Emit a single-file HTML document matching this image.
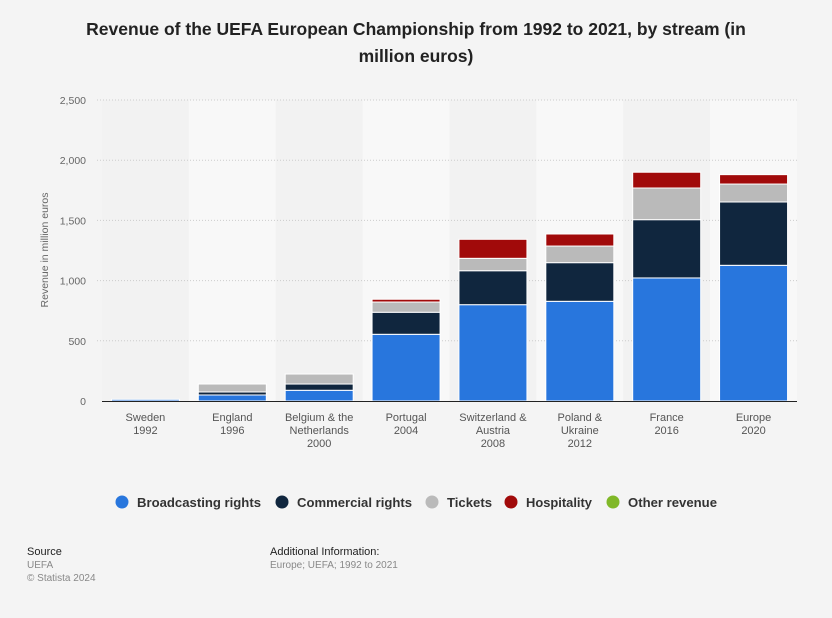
<!DOCTYPE html>
<html><head><meta charset="utf-8"><style>
body{margin:0;background:#f4f4f4;font-family:"Liberation Sans",Arial,sans-serif;}
#wrap{position:relative;width:832px;height:618px;overflow:hidden;background:#f4f4f4;}
.t{position:absolute;white-space:nowrap;}
</style></head><body>
<div id="wrap">
<div class="t" style="left:0;width:832px;top:16px;text-align:center;font-size:17.5px;font-weight:bold;color:#222;line-height:27px;white-space:normal">Revenue of the UEFA European Championship from 1992 to 2021, by stream (in<br>million euros)</div>
<svg id="chart" width="832" height="618" style="position:absolute;left:0;top:0"></svg>
<div class="t" style="left:27px;top:546px;font-size:11px;color:#222">Source</div>
<div class="t" style="left:27px;top:560px;font-size:10px;color:#888">UEFA</div>
<div class="t" style="left:27px;top:573px;font-size:10px;color:#888">© Statista 2024</div>
<div class="t" style="left:270px;top:546px;font-size:11px;color:#222">Additional Information:</div>
<div class="t" style="left:270px;top:560px;font-size:10px;color:#888">Europe; UEFA; 1992 to 2021</div>
</div>
<script>
const categories=[["Sweden","1992"],["England","1996"],["Belgium & the","Netherlands","2000"],["Portugal","2004"],["Switzerland &","Austria","2008"],["Poland &","Ukraine","2012"],["France","2016"],["Europe","2020"]];
const broadcasting=[14,50,89,554,800,828,1022,1127];
const commercial=[0,25,52,183,282,321,484,526];
const tickets=[0,66,83,85,103,138,263,149];
const hospitality=[0,0,0,23,158,100,131,78];
const other=[0,0,0,0,0,0,0,0];
const yTicks=[0,500,1000,1500,2000,2500];
const yTickLabels=["0","500","1,000","1,500","2,000","2,500"];
const seriesNames=["Broadcasting rights","Commercial rights","Tickets","Hospitality","Other revenue"];
const colors=["#2876dd","#10263e","#bababa","#a10a0a","#80b828"];
const NS="http://www.w3.org/2000/svg";
const svg=document.getElementById('chart');
const x0=102,x1=797,yBase=401,yTop=100,yMax=2500;
const band=(x1-x0)/categories.length,bw=68;
function y(v){return yBase-(v/yMax)*(yBase-yTop);}
function bx(i){return x0+band*i+band/2;}
function mk(t,a){const e=document.createElementNS(NS,t);for(const k in a)e.setAttribute(k,a[k]);svg.appendChild(e);return e;}
categories.forEach((c,i)=>{const r=mk('rect',{x:x0+band*i,y:yTop,width:band,height:yBase-yTop,fill:i%2==0?'#f2f2f2':'#f8f8f8'});

});
yTicks.forEach((v,i)=>{if(v>0){const l=mk('line',{x1:x0-5,x2:x1,y1:y(v),y2:y(v),stroke:'#ccc','stroke-dasharray':'1,2'});

}
const t=mk('text',{x:86,y:y(v)+4,'text-anchor':'end','font-size':'10.5',fill:'#666','font-family':'Liberation Sans'});t.textContent=yTickLabels[i];

});
const yt=mk('text',{x:48,y:250,transform:'rotate(-90 48 250)','text-anchor':'middle','font-size':'10.5',fill:'#666','font-family':'Liberation Sans'});yt.textContent='Revenue in million euros';


const series=[broadcasting,commercial,tickets,hospitality,other];
categories.forEach((c,i)=>{let acc=0;series.forEach((s,k)=>{const v=s[i];if(v>0){const r=mk('rect',{x:bx(i)-bw/2,y:y(acc+v),width:bw,height:y(acc)-y(acc+v),fill:colors[k],stroke:'#fff','stroke-width':1});

}acc+=v;});
c.forEach((ln,j)=>{const t=mk('text',{x:bx(i),y:421+j*13,'text-anchor':'middle','font-size':'11',fill:'#555','font-family':'Liberation Sans'});t.textContent=ln;

});});
const ax=mk('line',{x1:x0,x2:x1,y1:yBase+0.5,y2:yBase+0.5,stroke:'#222','stroke-width':1});


const lx=[122,282,432,511,613];
const lw=[124,115,45,66,89];
seriesNames.forEach((n,k)=>{const c=mk('circle',{cx:lx[k],cy:502,r:6.5,fill:colors[k]});


const t=mk('text',{x:lx[k]+15,y:507,'font-size':'13','font-weight':'bold',fill:'#333','font-family':'Liberation Sans',textLength:lw[k],lengthAdjust:'spacingAndGlyphs'});t.textContent=n;

});
</script>
</body></html>
